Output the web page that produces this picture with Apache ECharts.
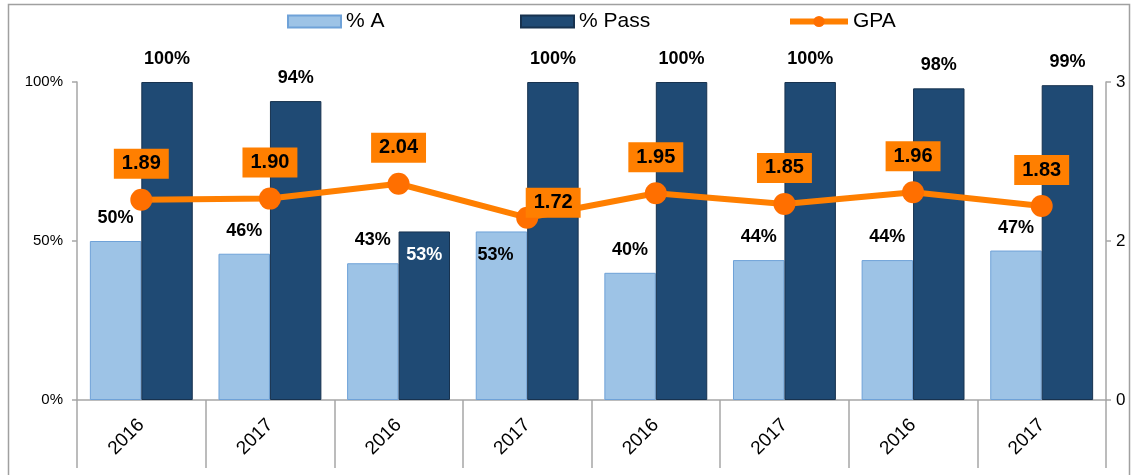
<!DOCTYPE html>
<html>
<head>
<meta charset="utf-8">
<script src="https://cdn.jsdelivr.net/npm/echarts@6/dist/echarts.min.js"></script>
<style>
  html, body { margin: 0; padding: 0; background: #fff; }
  #chart { width: 1133px; height: 475px; }
</style>
</head>
<body>
<div id="chart"></div>
<script>
const categories = ['2016', '2017', '2016', '2017', '2016', '2017', '2016', '2017'];
const pctA = [50, 46, 43, 53, 40, 44, 44, 47];
const pctPass = [100, 94, 53, 100, 100, 100, 98, 99];
const gpa = [1.89, 1.90, 2.04, 1.72, 1.95, 1.85, 1.96, 1.83];

const FONT = '"Liberation Sans", Arial, sans-serif';
const axisGray = '#A6A6A6';
const lightBlue = '#9DC3E6';
const navy = '#1F4A74';
const orange = '#FF7F00';

const chart = echarts.init(document.getElementById('chart'));

// a few labels sit inside the bar / off to the side, like in the original
const aData = pctA.map((v, i) => i === 3
  ? { value: v, label: { position: 'insideTop', distance: 15, offset: [-6, 0] } }
  : v);
const passData = pctPass.map((v, i) => i === 2
  ? { value: v, label: { position: 'insideTop', distance: 15, color: '#fff' } }
  : v);
const gpaData = gpa.map((v, i) => i === 3
  ? { value: v, label: { offset: [26, 21] } }
  : v);

const legendText = { fontSize: 21, color: '#000', fontFamily: FONT };

chart.setOption({
  animation: false,
  textStyle: { fontFamily: FONT },
  graphic: [{
    type: 'rect', shape: { x: 8.5, y: 4.5, width: 1121, height: 500 },
    style: { fill: 'none', stroke: '#A0A0A0', lineWidth: 1.5 }, silent: true, z: -1
  }],
  legend: [
    { data: [{ name: '% A', icon: 'rect' }], left: 282, top: 6, itemWidth: 53, itemHeight: 12, itemGap: 0, textStyle: legendText },
    { data: [{ name: '% Pass', icon: 'rect' }], left: 515, top: 6, itemWidth: 53, itemHeight: 12, itemGap: 0, textStyle: legendText },
    {
      data: ['GPA'], left: 782, top: 6, itemWidth: 58, itemHeight: 14, itemGap: 0,
      lineStyle: { width: 6 }, textStyle: legendText
    },
  ],
  grid: { left: 77, right: 27, top: 82, bottom: 75 },
  xAxis: {
    type: 'category',
    data: categories,
    axisLine: { lineStyle: { color: axisGray, width: 1.5 } },
    axisTick: { show: true, length: 68, alignWithLabel: false, lineStyle: { color: axisGray, width: 1.5 } },
    axisLabel: { rotate: 45, fontSize: 19, color: '#000', margin: 22, fontFamily: FONT },
  },
  yAxis: [
    {
      type: 'value', min: 0, max: 100, interval: 50,
      axisLine: { show: true, lineStyle: { color: axisGray, width: 1.5 } },
      axisTick: { show: true, length: 5, lineStyle: { color: axisGray, width: 1.5 } },
      axisLabel: { formatter: '{value}%', fontSize: 15, color: '#000', margin: 14 },
      splitLine: { show: false },
    },
    {
      type: 'value', min: 0, max: 3, interval: 1.5,
      axisLine: { show: true, lineStyle: { color: axisGray, width: 1.5 } },
      axisTick: { show: true, length: 5, lineStyle: { color: axisGray, width: 1.5 } },
      axisLabel: { formatter: v => Math.round(v), fontSize: 17, color: '#000', margin: 10 },
      splitLine: { show: false },
    },
  ],
  series: [
    {
      name: '% A', type: 'bar', data: aData, barGap: '0%', barCategoryGap: '20%',
      itemStyle: { color: lightBlue, borderColor: '#6FA2D8', borderWidth: 1 },
      label: { show: true, position: 'top', distance: 14, formatter: '{c}%', fontSize: 18, fontWeight: 'bold', color: '#000' },
    },
    {
      name: '% Pass', type: 'bar', data: passData,
      itemStyle: { color: navy, borderColor: '#17324F', borderWidth: 1 },
      label: { show: true, position: 'top', distance: 14, formatter: '{c}%', fontSize: 18, fontWeight: 'bold', color: '#000' },
    },
    {
      name: 'GPA', type: 'line', yAxisIndex: 1, data: gpaData, z: 5,
      symbol: 'circle', symbolSize: 22,
      lineStyle: { color: orange, width: 6 },
      itemStyle: { color: '#FF6F00' },
      label: {
        show: true, position: 'top', distance: 10,
        formatter: p => p.value.toFixed(2),
        backgroundColor: orange, padding: [5, 8],
        fontSize: 20, fontWeight: 'bold', color: '#000',
      },
    },
  ],
});
</script>
</body>
</html>
